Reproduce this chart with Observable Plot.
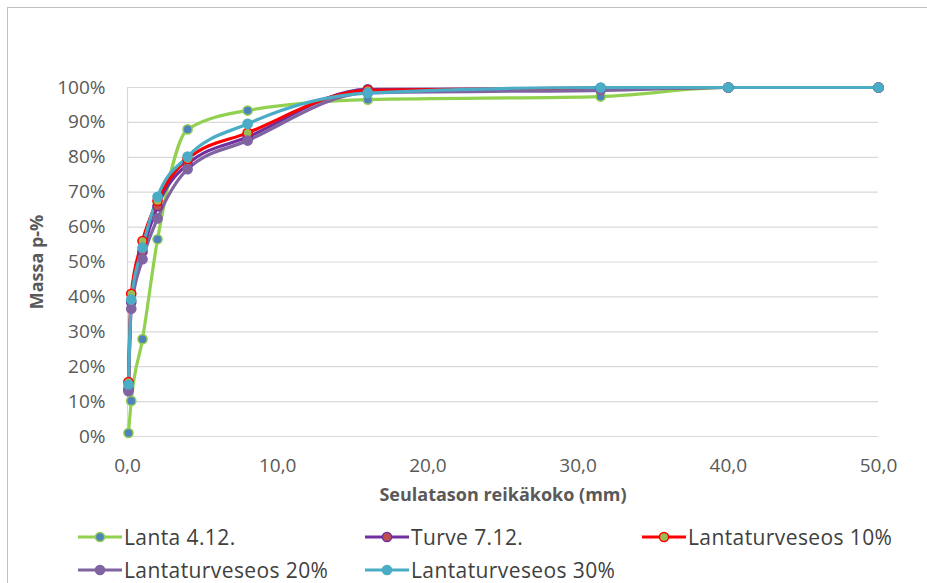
<!DOCTYPE html>
<html>
<head>
<meta charset="utf-8">
<script src="https://cdn.jsdelivr.net/npm/d3@7"></script>
<script src="https://cdn.jsdelivr.net/npm/@observablehq/plot@0.6"></script>
<style>
  html, body { margin: 0; padding: 0; background: #fff; }
  body { width: 927px; height: 583px; position: relative; overflow: hidden; font-family: "Open Sans", sans-serif; }
  #frame { position: absolute; left: 7px; top: 7px; width: 940px; height: 600px; border: 1.5px solid #BFBFBF; box-sizing: border-box; }
  #chart { position: absolute; left: 0; top: 0; }
  #legend { position: absolute; left: 77px; top: 520px; display: grid; grid-template-columns: 287px 277px auto; row-gap: 0; }
  .item { display: flex; align-items: center; height: 33px; color: #404040; font-size: 21px; white-space: nowrap; letter-spacing: 0.4px; }
  .item svg { margin-right: 1px; }
</style>
</head>
<body>
<div id="frame"></div>
<div id="chart"></div>
<div id="legend"></div>
<script>
// Sieve aperture (mm) and cumulative passing mass (%) per sample
const sizes = [0.063, 0.25, 1, 2, 4, 8, 16, 31.5, 40, 50];
const lanta = [1, 10.2, 27.9, 56.5, 88, 93.4, 96.5, 97.4, 100, 100];
const turve = [13.5, 38.5, 53, 66, 78, 85.8, 99.5, 99.6, 100, 100];
const seos10 = [15.6, 40.9, 56, 67.5, 79.5, 87, 99.2, 99.8, 100, 100];
const seos20 = [13, 36.6, 50.8, 62.5, 76.6, 84.8, 98.5, 99.2, 100, 100];
const seos30 = [14.9, 39.2, 54.1, 68.7, 80.2, 89.6, 98.4, 100, 100, 100];

const seriesNames = ["Lanta 4.12.", "Turve 7.12.", "Lantaturveseos 10%", "Lantaturveseos 20%", "Lantaturveseos 30%"];
const seriesValues = [lanta, turve, seos10, seos20, seos30];
const lineColors = ["#92D050", "#7030A0", "#FF0000", "#8064A2", "#4BACC6"];
const markerFills = ["#4F81BD", "#C0504D", "#9BBB59", "#8064A2", "#4BACC6"];

const xTicks = [0, 10, 20, 30, 40, 50];
const yTicks = [0, 10, 20, 30, 40, 50, 60, 70, 80, 90, 100];

const rows = seriesNames.flatMap((name, i) =>
  sizes.map((s, j) => ({series: name, size: s, pass: seriesValues[i][j], line: lineColors[i], fill: markerFills[i]}))
);

const chart = Plot.plot({
  width: 927,
  height: 510,
  marginLeft: 127,
  marginRight: 49,
  marginTop: 87,
  marginBottom: 74,
  style: {fontFamily: "Open Sans, sans-serif", fontSize: "19px", color: "#595959", background: "transparent"},
  x: {domain: [0, 50]},
  y: {domain: [0, 100]},
  marks: [
    Plot.gridY(yTicks, {stroke: "#D9D9D9", strokeOpacity: 1, strokeWidth: 1.2}),
    Plot.ruleX([0], {stroke: "#D9D9D9", strokeWidth: 1.2}),
    Plot.axisY(yTicks, {tickSize: 0, tickPadding: 22, tickFormat: d => d + "%", label: null, fill: "#595959", fontSize: 19}),
    Plot.axisX(xTicks, {tickSize: 0, tickPadding: 22, tickFormat: d => d.toFixed(1).replace(".", ","), label: null, fill: "#595959", fontSize: 19}),
    Plot.text(["Massa p-%"], {frameAnchor: "left", dx: -90, rotate: -90, textAnchor: "middle", lineAnchor: "middle", fontWeight: "bold", fontSize: 18, fill: "#595959"}),
    Plot.text(["Seulatason reikäkoko (mm)"], {frameAnchor: "bottom", dy: 59, textAnchor: "middle", lineAnchor: "middle", fontWeight: "bold", fontSize: 18, fill: "#595959"}),
    Plot.line(rows, {x: "size", y: "pass", z: "series", stroke: "line", strokeWidth: 3.2, curve: "monotone-x"}),
    Plot.dot(rows, {x: "size", y: "pass", r: 4.6, fill: "fill", stroke: "line", strokeWidth: 1.5})
  ]
});
document.getElementById("chart").appendChild(chart);

// Legend below the plot
const legend = document.getElementById("legend");
seriesNames.forEach((name, i) => {
  const item = document.createElement("div");
  item.className = "item";
  item.innerHTML =
    `<svg width="46" height="14"><line x1="1" y1="7" x2="45" y2="7" stroke="${lineColors[i]}" stroke-width="3"/>` +
    `<circle cx="23" cy="7" r="4.6" fill="${markerFills[i]}" stroke="${lineColors[i]}" stroke-width="1.5"/></svg>` +
    `<span>${name}</span>`;
  legend.appendChild(item);
});
</script>
</body>
</html>
